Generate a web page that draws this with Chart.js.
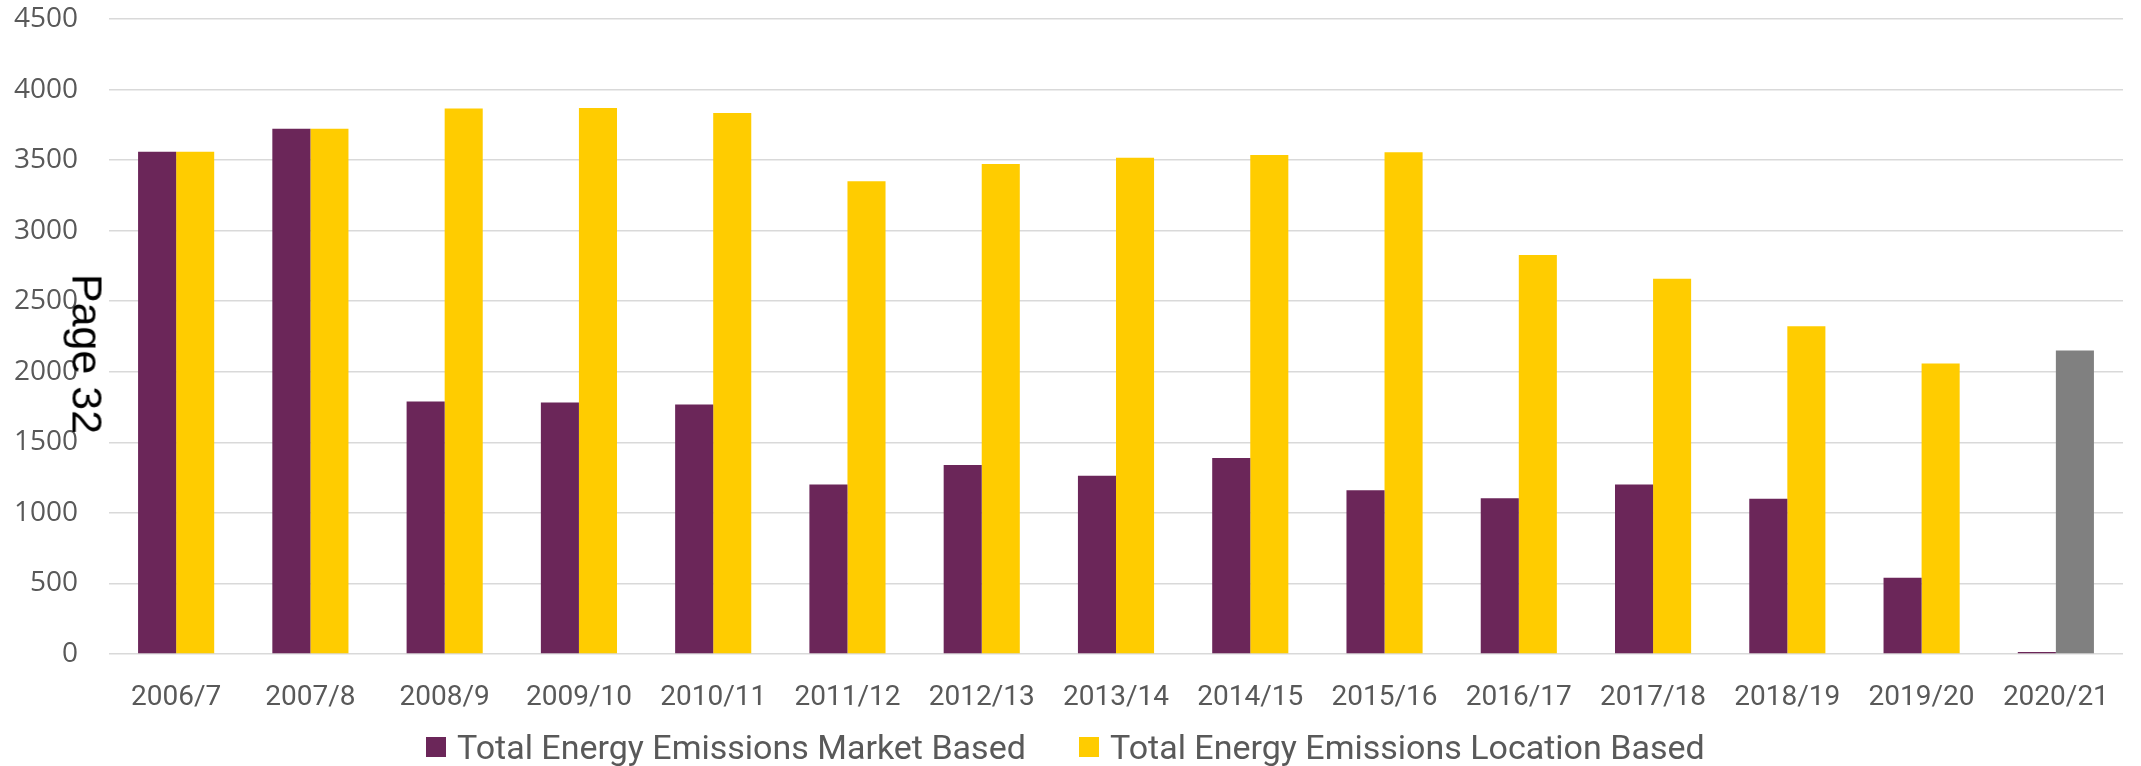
<!DOCTYPE html>
<html>
<head>
<meta charset="utf-8">
<script src="https://cdn.jsdelivr.net/npm/chart.js@4"></script>
<style>
  body { margin: 0; background: #fff; }
  #wrap { position: relative; width: 2141px; height: 766px; overflow: hidden; }
  #chart { position: absolute; left: 0; top: 0; }
  #legend {
    position: absolute; left: 0; top: 727px; width: 2141px; height: 40px;
    font-family: Roboto, "Open Sans", sans-serif; font-size: 34px; color: #595959;
  }
  .legend-item { position: absolute; top: 0; height: 40px; display: flex; align-items: center; white-space: nowrap; }
  .legend-box { width: 20px; height: 20px; margin-right: 11px; flex: none; }
  #pageNote {
    position: absolute; left: 87px; top: 354px;
    transform: translate(-50%, -50%) rotate(90deg);
    font-family: "Liberation Sans", Arial, sans-serif; font-size: 43px; color: #000;
    white-space: nowrap; line-height: 1;
  }
</style>
</head>
<body>
<div id="wrap">
  <canvas id="chart" width="2141" height="766"></canvas>
  <div id="legend"></div>
  <div id="pageNote">Page 32</div>
</div>
<script>
// Chart data
const years = ["2006/7", "2007/8", "2008/9", "2009/10", "2010/11", "2011/12", "2012/13", "2013/14",
  "2014/15", "2015/16", "2016/17", "2017/18", "2018/19", "2019/20", "2020/21"]
const marketBased = [3559, 3723, 1789, 1782, 1768, 1201, 1339, 1263, 1389, 1161, 1104, 1201, 1100, 540, 15]
const locationBased = [3559, 3723, 3865, 3870, 3834, 3351, 3472, 3517, 3536, 3555, 2827, 2659, 2322, 2058, 2150]
const yTicks = [0, 500, 1000, 1500, 2000, 2500, 3000, 3500, 4000, 4500]

const PURPLE = "#6B2659"
const YELLOW = "#FFCC00"
const GREY = "#808080"
const TEXT = "#595959"
const GRID = "#D9D9D9"

// last year is shown in grey
const locationColors = years.map((y, i) => (i === years.length - 1 ? GREY : YELLOW))

const datasets = [
  { label: "Total Energy Emissions Market Based", data: marketBased, backgroundColor: PURPLE, swatch: PURPLE },
  { label: "Total Energy Emissions Location Based", data: locationBased, backgroundColor: locationColors, swatch: YELLOW },
]

const chart = new Chart(document.getElementById("chart"), {
  type: "bar",
  data: {
    labels: years,
    datasets: datasets.map((d) => ({
      label: d.label,
      data: d.data,
      backgroundColor: d.backgroundColor,
      borderWidth: 0,
      categoryPercentage: 0.567,
      barPercentage: 1.0,
    })),
  },
  options: {
    responsive: false,
    animation: false,
    layout: { padding: { top: 19, right: 18, bottom: 44, left: 0 } },
    plugins: {
      legend: { display: false },
      tooltip: { enabled: false },
    },
    scales: {
      x: {
        grid: { display: false },
        border: { display: false },
        ticks: {
          color: TEXT,
          font: { family: "Roboto", size: 28 },
          padding: 19,
          maxRotation: 0,
          autoSkip: false,
        },
        afterFit: (scale) => { scale.height = 68 },
      },
      y: {
        min: yTicks[0],
        max: yTicks[yTicks.length - 1],
        border: { display: false },
        // invisible tick marks keep the labels away from the plot
        grid: { color: GRID, lineWidth: 1.5, drawTicks: true, tickLength: 31, tickColor: "transparent" },
        afterBuildTicks: (scale) => { scale.ticks = yTicks.map((v) => ({ value: v })) },
        ticks: {
          color: TEXT,
          font: { family: "Open Sans", size: 28 },
          padding: 0,
          callback: (value) => String(value),
        },
        afterFit: (scale) => { scale.width = 109 },
      },
    },
  },
})

// Build legend from the datasets
const legendLeft = [426, 1079]
const legendEl = document.getElementById("legend")
legendEl.innerHTML = datasets
  .map((d, i) => `<div class="legend-item" style="left:${legendLeft[i]}px"><span class="legend-box" style="background:${d.swatch}"></span>${d.label}</div>`)
  .join("")
</script>
</body>
</html>
